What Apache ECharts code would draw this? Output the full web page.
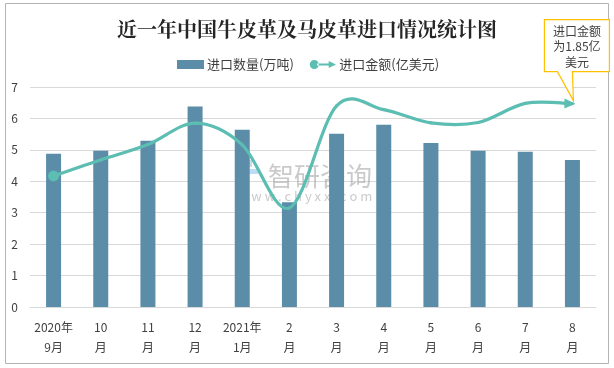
<!DOCTYPE html>
<html><head><meta charset="utf-8">
<script src="https://cdn.jsdelivr.net/npm/echarts@6/dist/echarts.min.js"></script>
<style>html,body{margin:0;padding:0;background:#fff}#c{width:614px;height:368px}</style>
</head><body><div id="c"></div>
<script>
var categories = ['2020年\n9月','10\n月','11\n月','12\n月','2021年\n1月','2\n月','3\n月','4\n月','5\n月','6\n月','7\n月','8\n月'];
var quantity = [4.88, 4.97, 5.29, 6.38, 5.64, 3.33, 5.51, 5.80, 5.22, 4.97, 4.94, 4.68];
var amount = [4.17, 4.68, 5.17, 5.85, 5.16, 3.15, 6.40, 6.28, 5.86, 5.87, 6.48, 6.47];
var yTicks = [0,1,2,3,4,5,6,7];
var titleText = '近一年中国牛皮革及马皮革进口情况统计图';
var seriesNames = ['进口数量(万吨)','进口金额(亿美元)'];
var calloutLines = ['进口金额','为1.85亿','美元'];

var FONT = '"Noto Sans CJK SC", "Microsoft YaHei", sans-serif';
var LINE_COLOR = '#5cbdb2';
var chart = echarts.init(document.getElementById('c'), null, {renderer:'canvas'});
var legendLineIcon = 'path://M0,5a5,5 0 1,0 10,0a5,5 0 1,0 -10,0Z M8,3.8H23V6.2H8Z M21,1L29,5L21,9Z';

function renderSmoothLine(params, api){
  if(params.dataIndex !== 0) return;
  var n = amount.length;
  var P = amount.map(function(v,i){ return api.coord([i, v]); });
  function p(i){ return P[Math.max(0, Math.min(n-1, i))]; }
  var children = [];
  var lastC2 = null;
  for(var i=0;i<n-1;i++){
    var a=p(i), b=p(i+1), pa=p(i-1), nb=p(i+2);
    var c1=[a[0]+(b[0]-pa[0])/6, a[1]+(b[1]-pa[1])/6];
    var c2=[b[0]-(nb[0]-a[0])/6, b[1]-(nb[1]-a[1])/6];
    lastC2 = c2;
    children.push({type:'bezierCurve',shape:{x1:a[0],y1:a[1],x2:b[0],y2:b[1],cpx1:c1[0],cpy1:c1[1],cpx2:c2[0],cpy2:c2[1]},
      style:{stroke:LINE_COLOR,lineWidth:3.2,fill:null,lineCap:'round'}});
  }
  var end = P[n-1];
  var dx = end[0]-lastC2[0], dy = end[1]-lastC2[1];
  var L = Math.sqrt(dx*dx+dy*dy); dx/=L; dy/=L;
  var tip=[end[0]+dx*3, end[1]+dy*3];
  var back=[tip[0]-dx*11, tip[1]-dy*11];
  var nx=-dy, ny=dx;
  children.push({type:'polygon',shape:{points:[tip,[back[0]+nx*5,back[1]+ny*5],[back[0]-nx*5,back[1]-ny*5]]},style:{fill:LINE_COLOR}});
  children.push({type:'circle',shape:{cx:P[0][0],cy:P[0][1],r:5.5},style:{fill:LINE_COLOR}});
  return {type:'group',children:children};
}

var option = {
  animation:false,
  textStyle:{fontFamily:FONT},
  title:{text:titleText,left:'center',top:14,textStyle:{fontSize:20,fontWeight:'bold',color:'#262626',fontFamily:'"Noto Serif CJK SC","Noto Sans CJK SC",serif'}},
  legend:{top:53,left:172,itemGap:16,textStyle:{fontSize:13,color:'#404040',padding:[0,0,0,-2]},
    data:[{name:seriesNames[0],icon:'rect',itemStyle:{color:'#5b8ca8'}},{name:seriesNames[1],icon:legendLineIcon,itemStyle:{color:LINE_COLOR}}],
    itemWidth:27,itemHeight:9},
  grid:{left:30,right:18,top:87,bottom:61},
  xAxis:{type:'category',data:categories,axisTick:{show:false},
    axisLine:{lineStyle:{color:'#d9d9d9',width:1}},
    axisLabel:{color:'#404040',fontSize:12,lineHeight:20,margin:10,interval:0}},
  yAxis:{type:'value',min:0,max:7,interval:1,
    axisLabel:{color:'#404040',fontSize:12,margin:12},
    splitLine:{lineStyle:{color:'#d9d9d9',width:1}},axisLine:{show:false},axisTick:{show:false}},
  series:[
    {name:seriesNames[0],type:'bar',data:quantity,barWidth:15,itemStyle:{color:'#5b8ca8'},z:2},
    {name:seriesNames[1],type:'custom',data:amount.map(function(v,i){return [i,v];}),encode:{x:0,y:1},
      renderItem:renderSmoothLine,itemStyle:{color:LINE_COLOR},z:3,clip:false}
  ]
};
chart.setOption(option);

var last = chart.convertToPixel({gridIndex:0},[amount.length-1, amount[amount.length-1]]);
var tx = last[0]+1, ty = last[1]-3;
var bl = tx-29, br = tx+36, bt = ty-81, bb = ty-29;
var graphics = [
  {type:'rect',shape:{x:5.5,y:3.5,width:603,height:360},style:{fill:'none',stroke:'#b4b4b4',lineWidth:1},silent:true,z:0},
  {type:'group',z:50,silent:true,children:[
    {type:'rect',shape:{x:238,y:160,width:6,height:14},style:{fill:'rgba(120,150,190,0.35)'}},
    {type:'rect',shape:{x:245,y:160,width:7,height:7},style:{fill:'rgba(120,150,190,0.35)'}},
    {type:'rect',shape:{x:245,y:169,width:13,height:5},style:{fill:'rgba(90,170,230,0.4)'}},
    {type:'text',x:268,y:176,style:{text:'智研咨询',font:'26px '+FONT,fill:'rgba(150,150,150,0.5)',textVerticalAlign:'middle'}},
    {type:'text',x:238,y:196,style:{text:'w w w . c h y x x . c o m',font:'13px '+FONT,fill:'rgba(150,150,150,0.5)',textVerticalAlign:'middle'}}
  ]},
  {type:'polygon',shape:{points:[[bl,bt],[br,bt],[br,bb],[tx-1,bb],[tx,ty],[tx-16,bb],[bl,bb]]},
    style:{fill:'#fff',stroke:'#ffc000',lineWidth:1.2},z:100},
  {type:'text',x:(bl+br)/2,y:bt+4,style:{text:calloutLines.join('\n'),textAlign:'center',textVerticalAlign:'top',
    fill:'#404040',font:'12px '+FONT,lineHeight:15.5},z:101}
];
chart.setOption({graphic:graphics});
</script></body></html>
